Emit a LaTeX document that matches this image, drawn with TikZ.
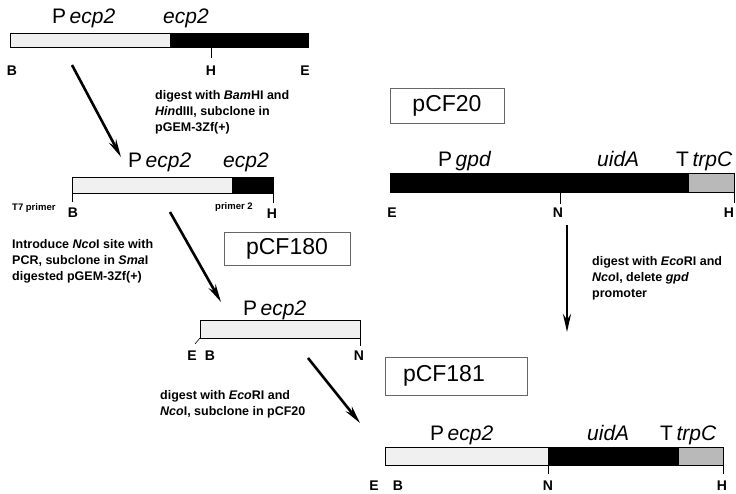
\documentclass[tikz,border=0pt]{standalone}
\usepackage{fontspec}
\setmainfont{Liberation Sans}
\usetikzlibrary{arrows.meta}

\begin{document}
\begin{tikzpicture}[x=1pt, y=-1pt,
  pale/.style={draw=black, line width=0.6pt, fill=gray!12},
  coding/.style={draw=black, line width=0.6pt, fill=black},
  termin/.style={draw=black, line width=0.6pt, fill=gray!55},
  genelbl/.style={font=\fontsize{21}{21}\selectfont, inner sep=0pt, anchor=base west},
  sitelbl/.style={font=\bfseries\fontsize{14}{14}\selectfont, inner sep=0pt, anchor=base},
  notelbl/.style={font=\bfseries\fontsize{12.5}{16}\selectfont, align=left, inner sep=0pt, anchor=north west},
  primerlbl/.style={font=\bfseries\fontsize{9.5}{9.5}\selectfont, inner sep=0pt, anchor=base west},
  plasmidbox/.style={draw=black!60, line width=0.6pt, font=\fontsize{23}{23}\selectfont, inner sep=0pt},
  stepline/.style={line width=2.6pt, -{Stealth[length=18pt, width=8pt]}},
  ticks/.style={line width=0.6pt}
]
  \useasboundingbox (0,0) rectangle (736,493);
  % genomisches Fragment B-H-E
  \fill[pale] (10,33) rectangle (170,47);
  \fill[coding] (170,33) rectangle (308,47);
  \draw[ticks] (211,47) -- (211,58);
  \node[genelbl] (g1p) at (52,23) {P\,\textit{ecp2}};
  \node[genelbl] (g1c) at (163,23) {\textit{ecp2}};
  \foreach \t/\xx in {B/12, H/211, E/305}{ \node[sitelbl] (s1\t) at (\xx,75) {\t}; }
  \node[notelbl] (n1) at (155,90) {digest with \textit{Bam}HI and\\\textit{Hin}dIII, subclone in\\pGEM-3Zf(+)};
  % Subklon in pGEM-3Zf(+)
  \fill[pale] (72,177) rectangle (232,193);
  \fill[coding] (232,177) rectangle (273,193);
  \draw[ticks] (72,193) -- (72,202);
  \draw[ticks] (273,193) -- (273,203);
  \node[genelbl] (g2p) at (128,167) {P\,\textit{ecp2}};
  \node[genelbl] (g2c) at (223,167) {\textit{ecp2}};
  \node[primerlbl] (t7) at (12,210) {T7 primer};
  \node[primerlbl] (pr2) at (215,209) {primer 2};
  \node[sitelbl] (s2B) at (73,217) {B};
  \node[sitelbl] (s2H) at (272,218) {H};
  \node[notelbl] (n2) at (12,239) {Introduce \textit{Nco}I site with\\PCR, subclone in \textit{Sma}I\\digested pGEM-3Zf(+)};
  \node[plasmidbox, minimum width=126pt, minimum height=33pt] (p180) at (287,248.5) {pCF180};
  % Promotorfragment E-B-N
  \fill[pale] (200,320) rectangle (360,338);
  \draw[ticks] (200,338) -- (195,344);
  \draw[ticks] (360,338) -- (360,346);
  \node[genelbl] (g3p) at (243,315) {P\,\textit{ecp2}};
  \foreach \t/\xx in {E/192, B/210, N/359}{ \node[sitelbl] (s3\t) at (\xx,360) {\t}; }
  \node[notelbl] (n3) at (160,390) {digest with \textit{Eco}RI and\\\textit{Nco}I, subclone in pCF20};
  % pCF20
  \node[plasmidbox, minimum width=114pt, minimum height=35pt] (p20) at (447,105.5) {pCF20};
  \fill[coding] (390,173) rectangle (688,192);
  \fill[termin] (688,173) rectangle (734,192);
  \draw[ticks] (560,192) -- (560,204);
  \draw[ticks] (734,192) -- (734,203);
  \node[genelbl] (g4p) at (438,166) {P\,\textit{gpd}};
  \node[genelbl] (g4u) at (597,166) {\textit{uidA}};
  \node[genelbl] (g4t) at (676,166) {T\,\textit{trpC}};
  \foreach \t/\xx in {E/392, N/558, H/729}{ \node[sitelbl] (s4\t) at (\xx,217) {\t}; }
  \node[notelbl] (n4) at (592,256) {digest with \textit{Eco}RI and\\\textit{Nco}I, delete \textit{gpd}\\promoter};
  % pCF181
  \node[plasmidbox, minimum height=38pt, inner xsep=18pt, text width=106pt, align=left] (p181) at (456,376) {pCF181};
  \fill[pale] (385,447) rectangle (548,465);
  \fill[coding] (548,447) rectangle (678,465);
  \fill[termin] (678,447) rectangle (723,465);
  \draw[ticks] (548,465) -- (548,474);
  \draw[ticks] (723,465) -- (723,474);
  \node[genelbl] (g5p) at (430,440) {P\,\textit{ecp2}};
  \node[genelbl] (g5u) at (587,440) {\textit{uidA}};
  \node[genelbl] (g5t) at (660,440) {T\,\textit{trpC}};
  \foreach \t/\xx in {E/374, B/398, N/548, H/722}{ \node[sitelbl] (s5\t) at (\xx,490) {\t}; }
  % Pfeile
  \coordinate (a1s) at (72,65);   \coordinate (a1e) at (121,157);
  \coordinate (a2s) at (170,212); \coordinate (a2e) at (221,302);
  \coordinate (a3s) at (308,358); \coordinate (a3e) at (360,423);
  \coordinate (a4s) at (567,225); \coordinate (a4e) at (567,332);
  \foreach \a in {1,...,4}{ \draw[stepline] (a\a s) -- (a\a e); }
\end{tikzpicture}
\end{document}
